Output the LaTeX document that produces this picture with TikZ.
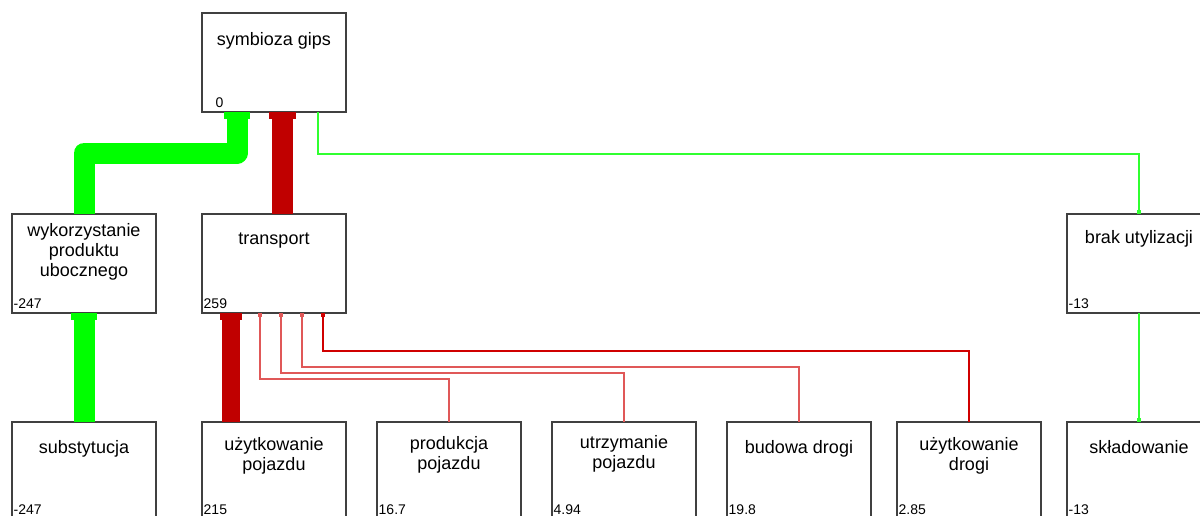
\documentclass[tikz,border=0pt]{standalone}
\usepackage{fontspec}
\setmainfont{Liberation Sans}
\usetikzlibrary{arrows.meta}
\definecolor{flowgreen}{HTML}{00FF00}
\definecolor{flowred}{HTML}{C00000}
\definecolor{linkred}{HTML}{E05858}
\definecolor{linkdark}{HTML}{D00000}
\definecolor{linkgreen}{HTML}{30FF30}
\definecolor{boxline}{HTML}{404040}

\tikzset{
  procbox/.style={draw=boxline,line width=1.2pt,anchor=north west,minimum width=144pt,
    minimum height=99pt,inner sep=0pt,outer sep=0pt},
  proctitle/.style={anchor=north,align=center,inner sep=0pt,font=\fontsize{18}{20}\selectfont},
  procval/.style={anchor=base west,inner sep=0pt,font=\fontsize{14}{16}\selectfont},
  bigflow/.style={line width=#1,line join=round,-{Rectangle[length=7pt,width=0pt 1.25]}},
  link/.style={line width=2pt,-{Square[length=4pt,width=4pt]}}
}

% name, x, y, title drop, title, value
\newcommand{\procbox}[6]{%
  \node[procbox] (#1) at (#2,#3) {};
  \node[proctitle] at ([yshift=-#4pt]#1.north) {#5};
  \node[procval] at ([shift={(1.5pt,5pt)}]#1.south west) {#6};
}

\begin{document}
\begin{tikzpicture}[x=1pt,y=-1pt]
  \useasboundingbox (0,0) rectangle (1200,515);
  \clip (0,0) rectangle (1200,515);

  \procbox{sym}{202}{13}{19}{symbioza gips}{\hspace{12pt}0}
  \procbox{wyk}{12}{214}{9}{wykorzystanie\\produktu\\ubocznego}{-247}
  \procbox{tra}{202}{214}{19}{transport}{259}
  \procbox{brak}{1067}{214}{16}{brak utylizacji}{-13}
  % bottom row runs off the page
  \tikzset{procbox/.append style={minimum height=97pt}}
  \procbox{sub}{12}{422}{18}{substytucja}{-247}
  \procbox{uzp}{202}{422}{15}{użytkowanie\\pojazdu}{215}
  \procbox{prod}{377}{422}{14}{produkcja\\pojazdu}{16.7}
  \procbox{utrz}{552}{422}{13}{utrzymanie\\pojazdu}{4.94}
  \procbox{bud}{727}{422}{18}{budowa drogi}{19.8}
  \procbox{uzd}{897}{422}{15}{użytkowanie\\drogi}{2.85}
  \procbox{skl}{1067}{422}{18}{składowanie}{-13}

  \draw[bigflow=21pt,flowgreen] (sub) -- (wyk);
  \draw[bigflow=21pt,flowgreen] (wyk.north) -- ++(0,-61) -| ([xshift=-37pt]sym.south);
  \draw[bigflow=21pt,flowred] ([xshift=8.5pt]tra.north) -- ([xshift=8.5pt]sym.south);
  \draw[bigflow=18pt,flowred] ([xshift=-43pt]uzp.north) -- ([xshift=-43pt]tra.south);

  \draw[link,linkred] (prod.north) -- ++(0,-43) -| ([xshift=-14pt]tra.south);
  \draw[link,linkred] (utrz.north) -- ++(0,-49) -| ([xshift=7pt]tra.south);
  \draw[link,linkred] (bud.north) -- ++(0,-55) -| ([xshift=28pt]tra.south);
  \draw[link,linkdark] (uzd.north) -- ++(0,-71) -| ([xshift=49pt]tra.south);
  \draw[link,linkgreen] ([xshift=44pt]sym.south) -- ++(0,42) -| (brak.north);
  \draw[link,linkgreen] (brak) -- (skl);
\end{tikzpicture}
\end{document}
